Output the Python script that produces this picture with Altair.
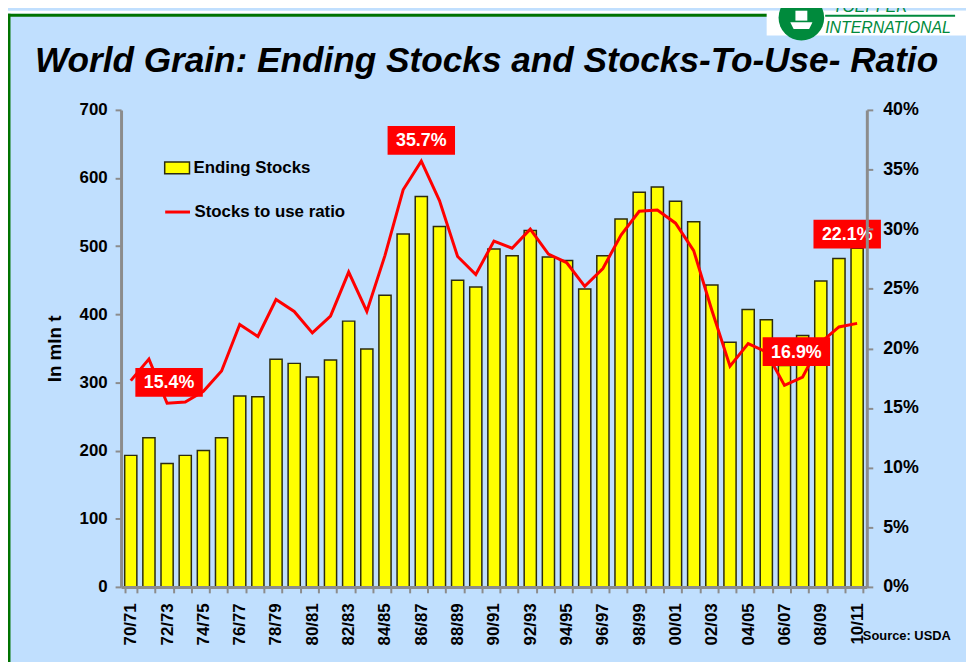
import altair as alt
import pandas as pd

# ---------------- data ----------------
seasons = ["70/71", "71/72", "72/73", "73/74", "74/75", "75/76", "76/77", "77/78", "78/79", "79/80",
           "80/81", "81/82", "82/83", "83/84", "84/85", "85/86", "86/87", "87/88", "88/89", "89/90",
           "90/91", "91/92", "92/93", "93/94", "94/95", "95/96", "96/97", "97/98", "98/99", "99/00",
           "00/01", "01/02", "02/03", "03/04", "04/05", "05/06", "06/07", "07/08", "08/09", "09/10",
           "10/11"]
ending_stocks = [193, 219, 181, 193, 200, 219, 280, 279, 334, 328,
                 308, 333, 390, 349, 428, 518, 573, 529, 450, 440,
                 496, 486, 523, 484, 479, 437, 486, 540, 579, 587,
                 566, 536, 443, 359, 407, 392, 325, 369, 449, 482,
                 497]
stocks_to_use = [17.3, 19.1, 15.4, 15.5, 16.4, 18.1, 22.0, 21.0, 24.1, 23.1,
                 21.3, 22.7, 26.4, 23.1, 27.8, 33.3, 35.7, 32.4, 27.7, 26.2,
                 29.0, 28.4, 30.0, 27.9, 27.2, 25.2, 26.7, 29.5, 31.5, 31.6,
                 30.5, 28.2, 23.2, 18.5, 20.4, 19.7, 16.9, 17.6, 20.5, 21.8,
                 22.1]
left_ticks = [0, 100, 200, 300, 400, 500, 600, 700]
right_ticks = [0, 5, 10, 15, 20, 25, 30, 35, 40]
annotated_seasons = ["72/73", "86/87", "06/07", "10/11"]
bar_name = "Ending Stocks"
line_name = "Stocks to use ratio"
title_text = "World Grain: Ending Stocks and Stocks-To-Use- Ratio"
source_text = "Source: USDA"

# ---------------- styling ----------------
FONT = "Liberation Sans"
BG = "#C0DFFE"
GREEN = "#007300"
LOGO_GREEN = "#008A3C"
AXIS_GRAY = "#8C8C8C"
W, H = 752, 481
PAD = {"left": 114, "top": 100, "right": 100, "bottom": 73}

# annotation box offsets (pixels) relative to the line point
ann_offsets = {"72/73": (2, -21), "86/87": (0, -21), "06/07": (12, -34), "10/11": (-10, -90)}

df = pd.DataFrame({"season": seasons, "stocks": ending_stocks, "ratio": stocks_to_use})
df["bar_series"] = bar_name
df["line_series"] = line_name

x_enc = alt.X(
    "season:N", sort=seasons,
    scale=alt.Scale(domain=seasons, paddingInner=0.33, paddingOuter=0.2),
    axis=alt.Axis(
        title=None, labelAngle=-90, labelAlign="right", labelBaseline="middle",
        labelFontSize=17, labelFontWeight="bold", labelColor="black", labelFont=FONT,
        labelPadding=10, labelOverlap=False,
        labelExpr="toNumber(substring(datum.label, 0, 2)) % 2 == 0 ? datum.label : ''",
        tickBand="extent", tickSize=6, tickWidth=2, tickColor=AXIS_GRAY,
        domainColor=AXIS_GRAY, domainWidth=3, zindex=1,
    ),
)

y_left = alt.Y(
    "stocks:Q", scale=alt.Scale(domain=[0, 700], nice=False),
    axis=alt.Axis(
        orient="left", values=left_ticks, grid=False,
        title="In mln t", titleFont=FONT, titleFontSize=19, titleFontWeight="bold", titleColor="black",
        titleAngle=270, titleX=-67, titleY=H / 2, titleAlign="center", titleBaseline="middle",
        labelFontSize=17, labelFontWeight="bold", labelColor="black", labelFont=FONT, labelPadding=8,
        tickSize=6, tickWidth=2, tickColor=AXIS_GRAY, domainColor=AXIS_GRAY, domainWidth=3, zindex=1,
    ),
)

y_right = alt.Y(
    "ratio:Q", scale=alt.Scale(domain=[0, 40], nice=False),
    axis=alt.Axis(
        orient="right", values=right_ticks, grid=False, title=None,
        labelExpr="datum.value + '%'",
        labelFontSize=18, labelFontWeight="bold", labelColor="black", labelFont=FONT, labelPadding=10,
        tickSize=6, tickWidth=2, tickColor=AXIS_GRAY, domainColor=AXIS_GRAY, domainWidth=3, zindex=1,
    ),
)

bars = alt.Chart(df).mark_bar(stroke="#2B2B10", strokeWidth=1.5).encode(
    x=x_enc,
    y=y_left,
    fill=alt.Fill(
        "bar_series:N",
        scale=alt.Scale(domain=[bar_name], range=["#FFFF00"]),
        legend=alt.Legend(
            orient="none", legendX=43, legendY=45, title=None, padding=0,
            symbolType="M-1,-0.48L1,-0.48L1,0.48L-1,0.48Z", symbolSize=625,
            symbolStrokeColor="#2B2B10", symbolStrokeWidth=1.5, symbolOpacity=1,
            labelFontSize=17, labelFontWeight="bold", labelColor="black", labelFont=FONT, labelOffset=3,
        ),
    ),
)

line = alt.Chart(df).mark_line(strokeWidth=3).encode(
    x=x_enc,
    y=y_right,
    stroke=alt.Stroke(
        "line_series:N",
        scale=alt.Scale(domain=[line_name], range=["#FF0000"]),
        legend=alt.Legend(
            orient="none", legendX=43, legendY=89, title=None, padding=0,
            symbolType="stroke", symbolSize=625, symbolStrokeWidth=3,
            labelFontSize=17, labelFontWeight="bold", labelColor="black", labelFont=FONT, labelOffset=3,
        ),
    ),
)

ann_layers = []
for s in annotated_seasons:
    dx, dy = ann_offsets[s]
    base = alt.Chart(df).transform_filter(alt.datum.season == s)
    box = base.mark_point(
        shape="M-1,-0.41L1,-0.41L1,0.41L-1,0.41Z", size=66 * 66, filled=True,
        fill="#FF0000", stroke="#FF0000", opacity=1, xOffset=dx, yOffset=dy,
    ).encode(x=x_enc, y=y_right)
    txt = base.transform_calculate(
        lbl="format(datum.ratio, '.1f') + '%'"
    ).mark_text(
        font=FONT, fontSize=18, fontWeight="bold", color="white",
        align="center", baseline="middle", xOffset=dx, yOffset=dy + 1,
    ).encode(x=x_enc, y=y_right, text="lbl:N")
    ann_layers += [box, txt]

ratio_group = alt.layer(line, *ann_layers)

# ---------------- decorations (page frame, logo, title, source) ----------------
one = alt.Data(values=[{"k": 1}])


def rect(x, x2, y, y2, color):
    return alt.Chart(one).mark_rect(color=color).encode(
        x=alt.value(x), x2=alt.value(x2), y=alt.value(y), y2=alt.value(y2))


top_white = rect(-114, 852, -100, -97, "white")
top_green = rect(-114, 656, -97, -94, GREEN)
left_green = rect(-114, -111.5, -97, 560, GREEN)
logo_box = rect(651, 852, -100, -75, "white")
logo_rule = rect(710, 841, -96, -94, LOGO_GREEN)
logo_circle = alt.Chart(one).mark_circle(
    size=2116, color=LOGO_GREEN, opacity=1
).encode(x=alt.value(686), y=alt.value-93 if False else alt.value(-93))
logo_ship = alt.Chart(one).mark_point(
    shape="M-1,-0.3L1,-0.3L0.7,0.3L-0.7,0.3Z", size=500, filled=True, color="white", opacity=1
).encode(x=alt.value(686), y=alt.value(-85))
logo_mast = rect(680, 692, -100, -90, "white")
logo_text1 = alt.Chart(one).mark_text(
    text="TOEPFER", font=FONT, fontSize=16, fontStyle="italic", color=LOGO_GREEN,
    align="left", baseline="alphabetic",
).encode(x=alt.value(718), y=alt.value(-99))
logo_text2 = alt.Chart(one).mark_text(
    text="INTERNATIONAL", font=FONT, fontSize=16, fontStyle="italic", color=LOGO_GREEN,
    align="left", baseline="alphabetic",
).encode(x=alt.value(710), y=alt.value(-78))
title = alt.Chart(one).mark_text(
    text=title_text, font=FONT, fontSize=35.5, fontStyle="italic", fontWeight="bold", color="black",
    align="center", baseline="alphabetic",
).encode(x=alt.value(368.5), y=alt.value(-38))
source = alt.Chart(one).mark_text(
    text=source_text, font=FONT, fontSize=13, fontWeight="bold", color="black",
    align="left", baseline="middle",
).encode(x=alt.value(748), y=alt.value(531))

chart = alt.layer(
    top_white, top_green, left_green, logo_box, logo_circle, logo_ship, logo_mast, logo_rule,
    logo_text1, logo_text2, title, source,
    bars, ratio_group,
).resolve_scale(
    y="independent"
).properties(
    width=W, height=H,
    autosize=alt.AutoSizeParams(type="none"),
    padding=PAD,
).configure(
    background=BG, font=FONT,
).configure_view(
    stroke="transparent",
)

chart.save("out.html", embed_options={"renderer": "svg", "actions": False})
